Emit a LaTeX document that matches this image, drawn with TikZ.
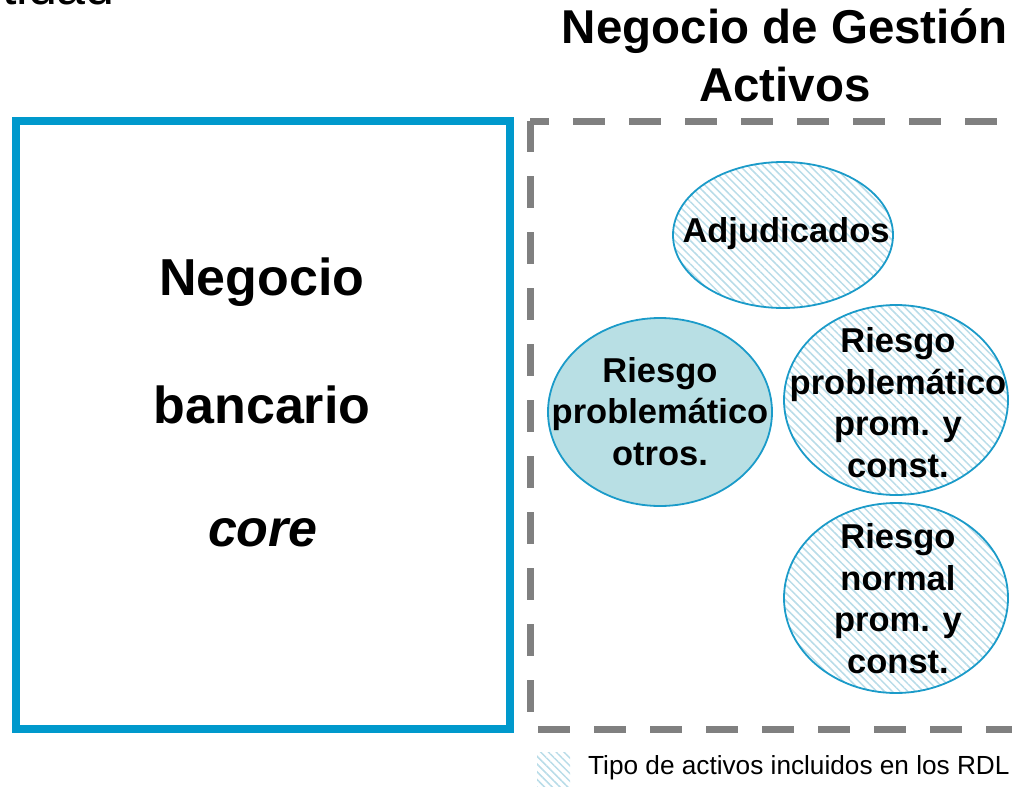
\documentclass[tikz,border=0pt]{standalone}
\usepackage{fontspec}
\setmainfont{Liberation Sans}
\usetikzlibrary{shapes.geometric,patterns.meta}
\definecolor{boxblue}{HTML}{0099CC}
\definecolor{ellblue}{HTML}{1B9BC9}
\definecolor{hatchblue}{HTML}{B8DCE8}
\definecolor{fillteal}{HTML}{B8DFE4}
\definecolor{dashgray}{HTML}{808080}
\begin{document}
\begin{tikzpicture}[x=1pt,y=-1pt,
  hatch/.style={pattern={Lines[angle=-45,distance=5.5pt,line width=1.5pt]},pattern color=hatchblue},
  ell/.style={ellipse,draw=ellblue,line width=1.8pt,inner sep=0pt},
  bigtxt/.style={font=\bfseries\fontsize{52}{60}\selectfont,anchor=base,inner sep=0pt},
  elltxt/.style={font=\bfseries\fontsize{34.5}{41.5}\selectfont,align=center,anchor=base,inner sep=0pt},
  gdash/.style={draw=dashgray,line width=7pt,dash pattern=on 32pt off 24pt},
]
\useasboundingbox (0,0) rectangle (1012,787);

% cut-off title at top left
\node[font=\fontsize{52}{60}\selectfont,anchor=base east,inner sep=0pt] (lefttitle) at (115,5) {tidad};

% title right (base anchor = last line)
\node[font=\bfseries\fontsize{47.5}{58}\selectfont,align=center,anchor=base,inner sep=0pt] (righttitle) at (785,101) {Negocio de Gestión\\Activos};

% core banking box
\draw[boxblue,line width=7.5pt] (16,121) rectangle (510,729);
\node[bigtxt] (neg) at (262,295) {Negocio};
\node[bigtxt] (ban) at (262,423) {bancario};
\node[bigtxt,font=\bfseries\itshape\fontsize{52}{60}\selectfont] (core) at (263,546) {core};

% dashed asset box
\draw[gdash,dash phase=13pt] (530,121) -- (1040,121);
\draw[gdash,dash phase=1pt] (530,121) -- (530,729);
\draw[gdash,dash phase=48pt] (530,729) -- (1040,729);

% ellipses
\node[ell,hatch,minimum width=220pt,minimum height=146pt] (adj) at (783,235) {};
\node[ell,fill=fillteal,minimum width=224pt,minimum height=188pt] (rpo) at (660,412) {};
\node[ell,hatch,minimum width=224pt,minimum height=190pt] (rpp) at (896,400) {};
\node[ell,hatch,minimum width=224pt,minimum height=190pt] (rnp) at (896,598) {};

\node[elltxt] (adjt) at (786,242) {Adjudicados};
\node[elltxt] (rpot) at (660,465) {Riesgo\\problemático\\otros.};
\node[elltxt] (rppt) at (898,477) {Riesgo\\problemático\\prom. y\\const.};
\node[elltxt] (rnpt) at (898,673) {Riesgo\\normal\\prom. y\\const.};

% legend
\path[hatch] (537,752) rectangle (570,786);
\node[font=\fontsize{26.2}{30}\selectfont,anchor=base west,inner sep=0pt] (legt) at (588,774) {Tipo de activos incluidos en los RDL};
\end{tikzpicture}
\end{document}
